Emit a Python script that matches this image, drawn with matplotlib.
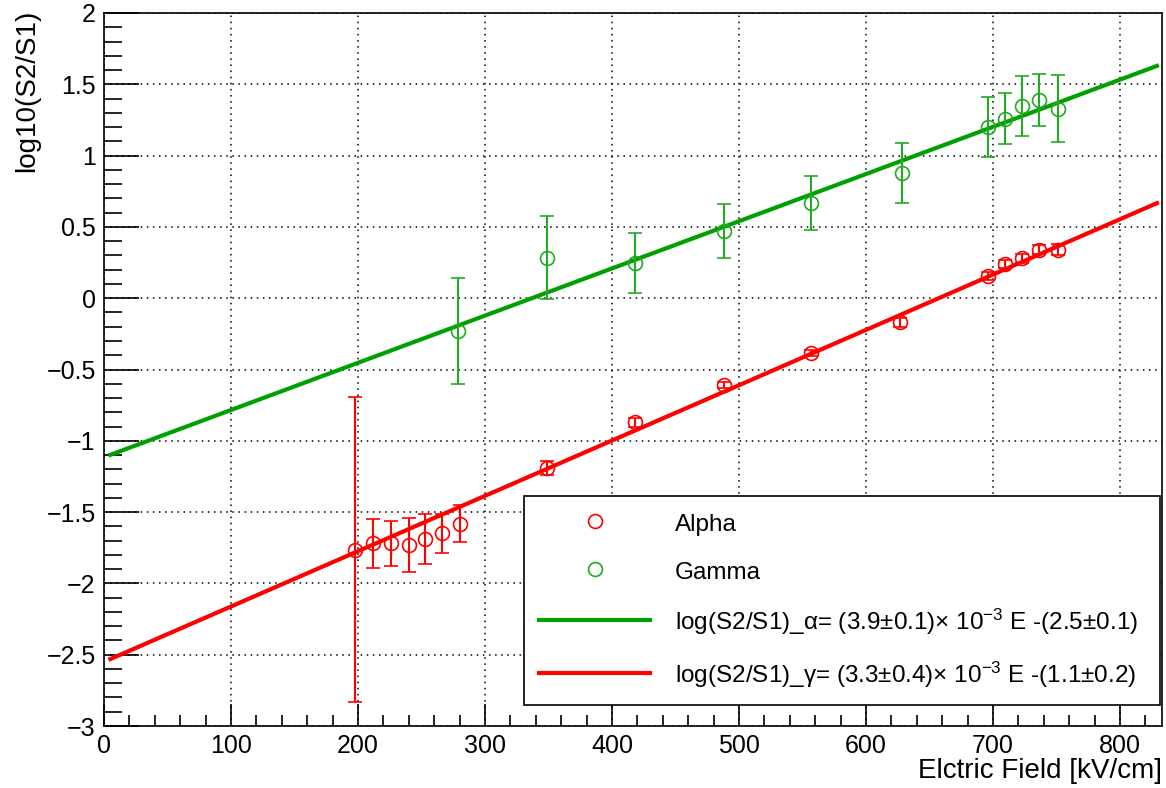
import matplotlib
matplotlib.use("Agg")
import matplotlib.pyplot as plt
import numpy as np
from matplotlib.lines import Line2D
from matplotlib.ticker import MultipleLocator, FuncFormatter

plt.rcParams["font.family"] = ["Liberation Sans", "DejaVu Sans"]
plt.rcParams["mathtext.fontset"] = "custom"
plt.rcParams["mathtext.rm"] = "Liberation Sans"
plt.rcParams["mathtext.default"] = "regular"

# data
alpha_field = [198, 212, 226, 240, 253, 266, 280, 349, 418, 488, 557, 627, 696, 709, 723, 736, 751]
alpha_value = [-1.765, -1.72, -1.72, -1.73, -1.69, -1.65, -1.58, -1.19, -0.87, -0.61, -0.385, -0.17,
               0.155, 0.24, 0.28, 0.34, 0.34]
alpha_err = [1.07, 0.17, 0.16, 0.19, 0.175, 0.14, 0.13, 0.05, 0.03, 0.02, 0.02, 0.03,
             0.03, 0.03, 0.03, 0.03, 0.04]

gamma_field = [279, 349, 418, 488, 557, 628, 696, 709, 723, 736, 751]
gamma_value = [-0.23, 0.285, 0.245, 0.47, 0.67, 0.875, 1.20, 1.26, 1.345, 1.39, 1.33]
gamma_err = [0.37, 0.29, 0.21, 0.19, 0.19, 0.21, 0.21, 0.18, 0.21, 0.18, 0.235]

# fit lines: slope, intercept, range
green_fit = [0.00331, -1.115]
red_fit = [0.00388, -2.55]
fit_range = [5, 829]

alpha_label = "Alpha"
gamma_label = "Gamma"
green_fit_label = r"log(S2/S1)_α= (3.9±0.1)× 10$^{-3}$ E -(2.5±0.1)"
red_fit_label = r"log(S2/S1)_γ= (3.3±0.4)× 10$^{-3}$ E -(1.1±0.2)"

RED = "#ff0000"
GREEN_LINE = "#00a000"
GREEN_MARK = "#22aa22"

PT = 72 / 100  # pixels -> points at dpi 100

fig = plt.figure(figsize=(11.66, 7.88), dpi=100)
ax = fig.add_axes([104 / 1166, 1 - 726 / 788, 1058 / 1166, 713 / 788])

xs = np.linspace(fit_range[0], fit_range[1], 200)
ax.plot(xs, green_fit[0] * xs + green_fit[1], color=GREEN_LINE, lw=3, zorder=3)
ax.plot(xs, red_fit[0] * xs + red_fit[1], color=RED, lw=3, zorder=3)

ax.errorbar(alpha_field, alpha_value, yerr=alpha_err, fmt="o", mfc="none", mec=RED,
            ecolor=RED, ms=10, mew=1.2, elinewidth=1.5, capsize=5, capthick=1.5, zorder=4)
ax.errorbar(gamma_field, gamma_value, yerr=gamma_err, fmt="o", mfc="none", mec=GREEN_MARK,
            ecolor=GREEN_MARK, ms=10, mew=1.2, elinewidth=1.5, capsize=5, capthick=1.5, zorder=4)

ax.set_xlim(0, 833)
ax.set_ylim(-3, 2)
ax.xaxis.set_major_locator(MultipleLocator(100))
ax.xaxis.set_minor_locator(MultipleLocator(20))
ax.yaxis.set_major_locator(MultipleLocator(0.5))
ax.yaxis.set_minor_locator(MultipleLocator(0.1))
ax.yaxis.set_major_formatter(FuncFormatter(lambda v, p: ("%g" % v).replace("-", "\u2212")))
ax.tick_params(which="both", direction="in", top=False, right=False, labelsize=18, width=1.2)
ax.tick_params(axis="y", which="major", length=35 * PT, pad=6)
ax.tick_params(axis="y", which="minor", length=18 * PT)
ax.tick_params(axis="x", which="major", length=22 * PT, pad=6)
ax.tick_params(axis="x", which="minor", length=11 * PT)
for spine in ax.spines.values():
    spine.set_linewidth(1.2)

ax.grid(True, which="major", color="black", linestyle=(0, (1, 3)), linewidth=1.1)
ax.set_axisbelow(True)

ax.set_xlabel("Elctric Field [kV/cm]", loc="right", fontsize=20, labelpad=0)
ax.set_ylabel("log10(S2/S1)", loc="top", fontsize=20)
ax.yaxis.set_label_coords(-0.06, 1.005)

handles = [
    Line2D([], [], ls="none", marker="o", mfc="none", mec=RED, ms=10, mew=1.2),
    Line2D([], [], ls="none", marker="o", mfc="none", mec=GREEN_MARK, ms=10, mew=1.2),
    Line2D([], [], color=GREEN_LINE, lw=3),
    Line2D([], [], color=RED, lw=3),
]
labels = [alpha_label, gamma_label, green_fit_label, red_fit_label]
leg = ax.legend(handles, labels, loc="lower left", bbox_to_anchor=(0.397, 0.0295, 0.601, 0.292),
                mode="expand", fontsize=17.5, frameon=True, fancybox=False, framealpha=1,
                edgecolor="black", handlelength=4.6, handletextpad=1.0, handleheight=1.1,
                labelspacing=0.95, borderpad=0.6, borderaxespad=0)
leg.get_frame().set_linewidth(1.2)

fig.savefig("out.png", dpi=100)
